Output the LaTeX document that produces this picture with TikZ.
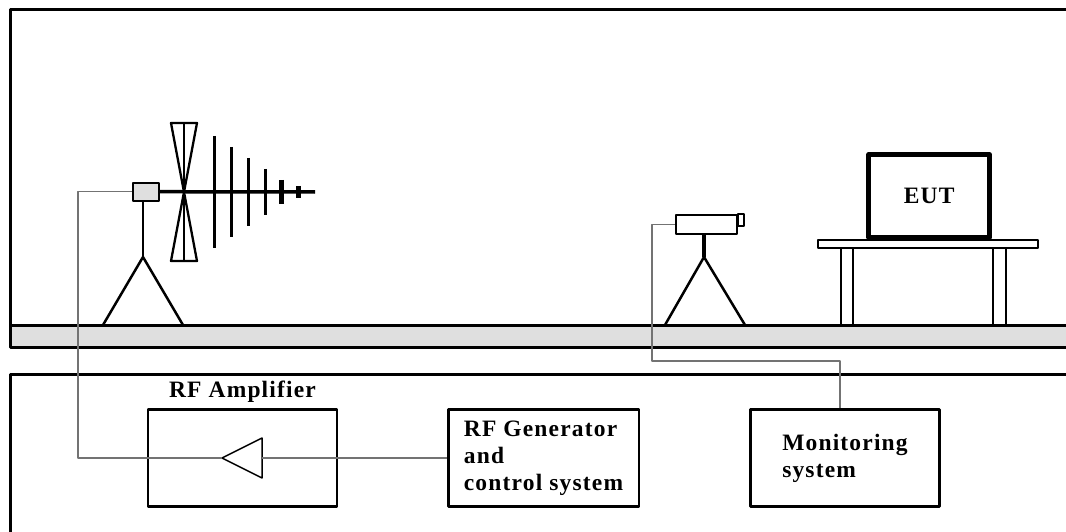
\documentclass[tikz,border=0pt]{standalone}
\usepackage{fontspec}
\setmainfont{Liberation Serif}[LetterSpace=5]
\usetikzlibrary{%
  arrows,%
  positioning,% wg. " of "
  calc%
}

\begin{document}
\begin{tikzpicture}
[x=1pt, y=-1pt, draw=black, line width=2.5pt, line join=round,
box/.style={rectangle, draw, line width=2.5pt, inner sep=0pt, align=left, font=\fontsize{23.5}{27}\selectfont\bfseries},
boxtitle/.style={inner sep=0pt, font=\fontsize{23.5}{27}\selectfont\bfseries},
leg/.style={line width=2.5pt},
cable/.style={draw=black!55, line width=1.2pt},
mast/.style={rectangle, draw, line width=2pt, inner sep=0pt}]

\useasboundingbox (0,0) rectangle (1066,532);

% chamber and floor
\draw[line width=3pt] (1070,10) -- (10,10) -- (10,325);
\fill[gray!25] (10,325) rectangle (1070,347);
\draw[line width=3pt] (1070,325) -- (10,325) -- (10,347) -- (1070,347);
\draw[line width=3pt] (1070,374) -- (10,374) -- (10,540);

% transmitting antenna
\coordinate (antapex) at (143,257);
\node[mast, fill=gray!25, minimum width=26pt, minimum height=18pt] (feed) at (145.7,191.7) {};
\draw[leg] (feed.south -| antapex) -- (antapex);
\draw[leg] (103,325) -- (antapex) -- (183,325);
\draw[line width=3.5pt] (feed.east) -- (315,192);
\draw[line width=2.3pt] (171,123) -- (197,123) -- (184,192) -- cycle;
\draw[line width=2.3pt] (184,192) -- (171,261) -- (197,261) -- cycle;
\draw[line width=2.3pt] (184,123) -- (184,261);
\foreach \x/\h in {214/56, 231/45, 248/34, 265/23}
  \draw[line width=3pt] (\x,{192-\h}) -- (\x,{192+\h});
\draw[line width=5pt] (281,180) -- (281,204);
\draw[line width=5pt] (298,186) -- (298,198);

% field probe
\coordinate (probeapex) at (704,257);
\node[mast, minimum width=61pt, minimum height=19pt] (probe) at (706.5,224.5) {};
\draw[line width=2pt] (probe.north east) rectangle (744,226);
\draw[line width=4pt] (probe.south -| probeapex) -- (probeapex);
\draw[leg] (665,325) -- (probeapex) -- (745,325);

% EUT on table
\node[box, line width=4.5pt, minimum width=121pt, minimum height=83pt, align=center] (eut) at (929.2,196) {EUT};
\draw[line width=2pt] (818,240) rectangle (1038,248);
\draw[line width=2pt] (841,248) rectangle (853,325);
\draw[line width=2pt] (993,248) rectangle (1006,325);

% control room
\node[box, minimum width=189pt, minimum height=97pt] (amp) at (242.5,458) {};
\node[boxtitle, above=4pt of amp] (amptitle) {RF Amplifier};
\node[box, minimum width=190.5pt, minimum height=97pt] (gen) at (543.5,458) {RF Generator\\and\\control system};
\node[box, minimum width=189pt, minimum height=97pt] (mon) at (845,458) {Monitoring\\system};

\coordinate (amptip) at (222,458);
\coordinate (ampbase) at (262,458);
\draw[line width=1.5pt] (amptip) -- (262,438) -- (262,478) -- cycle;

% cables
\coordinate (antcab) at (78,458);
\coordinate (moncab) at (840,361);
\draw[cable] (gen.west) -- (ampbase);
\draw[cable] (amptip) -- (antcab) |- (feed.west);
\draw[cable] (mon.north -| moncab) -- (moncab) -- (652,361) |- (probe.west);

\end{tikzpicture}
\end{document}
